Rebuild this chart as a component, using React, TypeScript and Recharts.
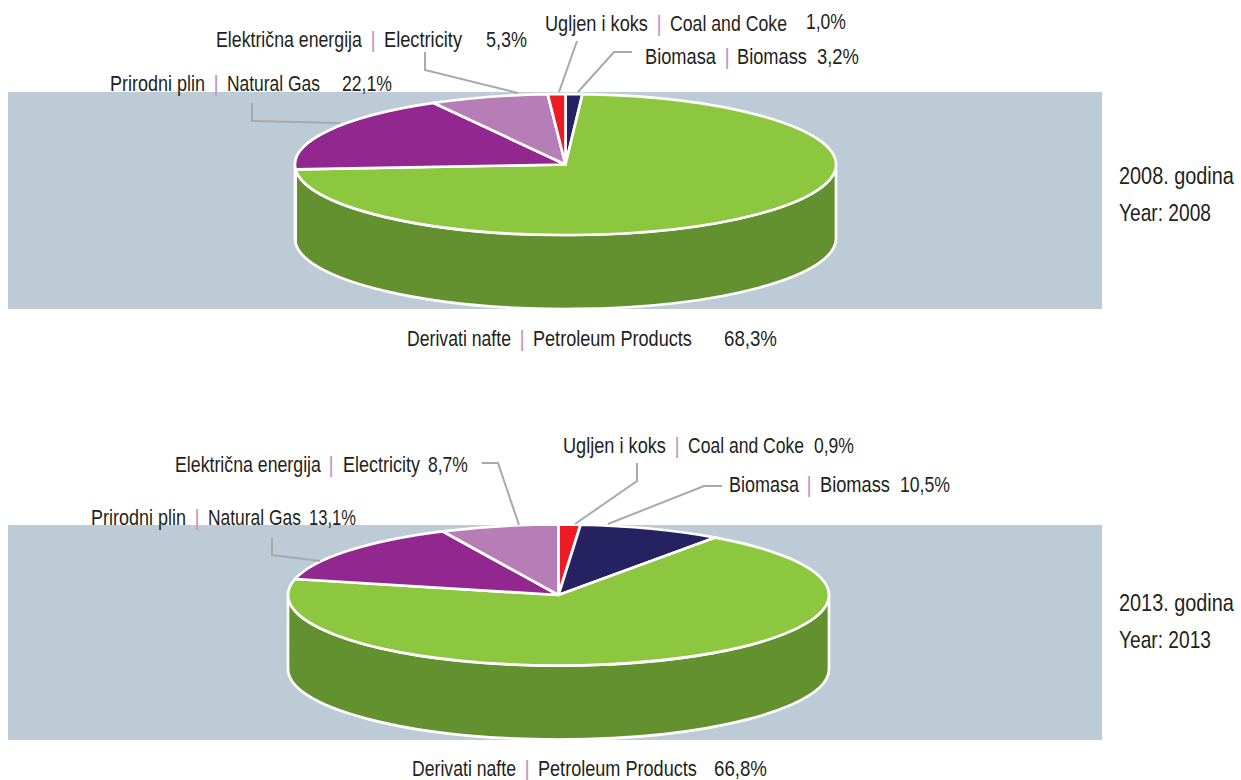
import React from "react";
import { PieChart, Pie } from "recharts";

// ---------- data ----------
const fuelNames2008 = ["Biomasa", "Derivati nafte", "Prirodni plin", "Električna energija", "Ugljen i koks"];
const fuelNames2013 = ["Ugljen i koks", "Biomasa", "Derivati nafte", "Prirodni plin", "Električna energija"];
// drawn shares of each slice
const sliceShares2008 = [1.0, 72.9, 18.0, 7.05, 1.05];
const sliceShares2013 = [1.3, 8.55, 68.8, 14.3, 7.05];
const bsLabels2008 = ["Biomasa", "Derivati nafte", "Prirodni plin", "Električna energija", "Ugljen i koks"];
const enLabels2008 = ["Biomass", "Petroleum Products", "Natural Gas", "Electricity", "Coal and Coke"];
const shareLabels2008 = ["3,2%", "68,3%", "22,1%", "5,3%", "1,0%"];
const bsLabels2013 = ["Ugljen i koks", "Biomasa", "Derivati nafte", "Prirodni plin", "Električna energija"];
const enLabels2013 = ["Coal and Coke", "Biomass", "Petroleum Products", "Natural Gas", "Electricity"];
const shareLabels2013 = ["0,9%", "10,5%", "66,8%", "13,1%", "8,7%"];
const yearLabels2008 = ["2008. godina", "Year: 2008"];
const yearLabels2013 = ["2013. godina", "Year: 2013"];

const table2008 = fuelNames2008.map((name, i) => ({ name, value: sliceShares2008[i] }));
const table2013 = fuelNames2013.map((name, i) => ({ name, value: sliceShares2013[i] }));

// ---------- styles & layout ----------
const FONT = "'Liberation Sans', sans-serif";
const TEXT = "#231f20";
const PIPE = "#c79ac8";
const LEADER = "#a7a9ac";
const PANEL = "#bccbd5";
const NAVY = "#262262";
const GREEN = "#8dc63f";
const PURPLE = "#92278f";
const LILAC = "#b67db7";
const RED = "#ed1c24";
const WALL = "#63912f";
const colors2008 = [NAVY, GREEN, PURPLE, LILAC, RED];
const colors2013 = [RED, NAVY, GREEN, PURPLE, LILAC];
const RX = 270.5;
const RATIO = 70.5 / 270.5;
const DEPTH = 74;

type Seg = [number, number];
interface LabelLayout {
  y: number; bs: Seg; pipe: number; en: Seg; pct: Seg; pctY?: number; leader?: number[][];
}
const layout2008: LabelLayout[] = [
  { y: 64, bs: [645, 716], pipe: 727, en: [737, 807], pct: [817, 859], leader: [[632, 52], [614, 52], [578, 92]] },
  { y: 346, bs: [407, 511], pipe: 522, en: [533, 692], pct: [724, 777] },
  { y: 91, bs: [110, 205], pipe: 216, en: [227, 320], pct: [342, 392], leader: [[252, 103], [252, 121], [340, 123]] },
  { y: 47, bs: [216, 362], pipe: 373, en: [384, 462], pct: [486, 527], leader: [[425, 52], [425, 70], [518, 93]] },
  { y: 31, bs: [545, 648], pipe: 659, en: [670, 787], pct: [806, 846], pctY: 29, leader: [[577, 41], [559, 92]] },
];
const layout2013: LabelLayout[] = [
  { y: 453, bs: [563, 666], pipe: 677, en: [688, 804], pct: [814, 854], leader: [[637, 463], [637, 481], [575, 524]] },
  { y: 492, bs: [729, 799], pipe: 809, en: [820, 890], pct: [900, 950], leader: [[722, 486], [704, 486], [608, 524]] },
  { y: 776, bs: [412, 516], pipe: 527, en: [538, 697], pct: [714, 767] },
  { y: 525, bs: [91, 186], pipe: 197, en: [208, 301], pct: [309, 356], leader: [[272, 538], [272, 555], [320, 561]] },
  { y: 472, bs: [175, 321], pipe: 331, en: [343, 420], pct: [428, 468], leader: [[482, 463], [498, 463], [519, 525]] },
];

// ---------- elliptical shapes ----------
const pt = (cx: number, cy: number, r: number, deg: number) => {
  const a = (deg * Math.PI) / 180;
  return [cx + r * Math.cos(a), cy - r * RATIO * Math.sin(a)];
};

const topShape = (colors: string[]) => (p: any) => {
  const { cx, cy, outerRadius: r, startAngle, endAngle, index } = p;
  const [x0, y0] = pt(cx, cy, r, startAngle);
  const [x1, y1] = pt(cx, cy, r, endAngle);
  const large = Math.abs(startAngle - endAngle) > 180 ? 1 : 0;
  return (
    <path
      d={`M${cx},${cy}L${x0},${y0}A${r},${r * RATIO} 0 ${large} 1 ${x1},${y1}Z`}
      fill={colors[index]}
      stroke="#fff"
      strokeWidth={2.7}
      strokeLinejoin="round"
    />
  );
};

const wallShape = (p: any) => {
  const { cx, cy, outerRadius: r, startAngle, endAngle } = p;
  const s = Math.min(startAngle, 0);
  const e = Math.max(endAngle, -180);
  if (s <= e) return <g />;
  const [x0, y0] = pt(cx, cy, r, s);
  const [x1, y1] = pt(cx, cy, r, e);
  const rr = `${r},${r * RATIO} 0 0`;
  return (
    <path
      d={`M${x0},${y0}A${rr} 1 ${x1},${y1}L${x1},${y1 + DEPTH}A${rr} 0 ${x0},${y0 + DEPTH}Z`}
      fill={WALL}
      stroke="#fff"
      strokeWidth={2.7}
      strokeLinejoin="round"
    />
  );
};

// The condensed face of the reference is not installed, so the regular face is
// narrowed horizontally until it spans the width.
const measureCtx = document.createElement("canvas").getContext("2d");
const squeeze = (text: string, size: number, width: number) => {
  if (!measureCtx) return 0.82;
  measureCtx.font = `${size}px "Liberation Sans"`;
  return width / measureCtx.measureText(text).width;
};

const Part = ({ seg, y, text, size = 22 }: { seg: Seg; y: number; text: string; size?: number }) => (
  <text
    transform={`translate(${seg[0]},${y}) scale(${squeeze(text, size, seg[1] - seg[0])},1)`}
    fontFamily={FONT}
    fontSize={size}
    fill={TEXT}
  >
    {text}
  </text>
);

const labelFor = (layout: LabelLayout[], bs: string[], en: string[], pct: string[]) => (p: any) => {
  const i = p.index;
  const l = layout[i];
  return (
    <g key={i}>
      {l.leader && (
        <polyline points={l.leader.map((q) => q.join(",")).join(" ")} fill="none" stroke={LEADER} strokeWidth={2} />
      )}
      <Part seg={l.bs} y={l.y} text={bs[i]} />
      <text x={l.pipe} y={l.y} textAnchor="middle" fontFamily={FONT} fontSize={22} fill={PIPE}>|</text>
      <Part seg={l.en} y={l.y} text={en[i]} />
      <Part seg={l.pct} y={l.pctY ?? l.y} text={pct[i]} />
    </g>
  );
};

const Panel = ({ top, height }: { top: number; height: number }) => (
  <div style={{ position: "absolute", left: 8, top, width: 1094, height, background: PANEL }} />
);

export default function App() {
  return (
    <div style={{ position: "absolute", left: 0, top: 0, width: 1241, height: 780, overflow: "hidden", background: "#fff" }}>
      <Panel top={92} height={217} />
      <Panel top={525} height={215} />
      <div style={{ position: "absolute", left: 0, top: 0 }}>
        <PieChart width={1241} height={780} margin={{ top: 0, right: 0, bottom: 0, left: 0 }}>
          <Pie data={table2008} dataKey="value" nameKey="name" cx={565.5} cy={164.5} outerRadius={RX} startAngle={90} endAngle={-270}
            stroke="none" shape={wallShape} isAnimationActive={false} />
          <Pie data={table2008} dataKey="value" nameKey="name" cx={565.5} cy={164.5} outerRadius={RX} startAngle={90} endAngle={-270}
            shape={topShape(colors2008)} labelLine={false} label={labelFor(layout2008, bsLabels2008, enLabels2008, shareLabels2008)} isAnimationActive={false} />
          <Pie data={table2013} dataKey="value" nameKey="name" cx={558.5} cy={595} outerRadius={RX} startAngle={90} endAngle={-270}
            stroke="none" shape={wallShape} isAnimationActive={false} />
          <Pie data={table2013} dataKey="value" nameKey="name" cx={558.5} cy={595} outerRadius={RX} startAngle={90} endAngle={-270}
            shape={topShape(colors2013)} labelLine={false} label={labelFor(layout2013, bsLabels2013, enLabels2013, shareLabels2013)} isAnimationActive={false} />
        </PieChart>
      </div>
      <svg width={1241} height={780} style={{ position: "absolute", left: 0, top: 0, pointerEvents: "none" }}>
        <Part seg={[1119, 1234]} y={184} text={yearLabels2008[0]} size={24} />
        <Part seg={[1119, 1211]} y={221} text={yearLabels2008[1]} size={24} />
        <Part seg={[1119, 1234]} y={611} text={yearLabels2013[0]} size={24} />
        <Part seg={[1119, 1211]} y={648} text={yearLabels2013[1]} size={24} />
      </svg>
    </div>
  );
}
